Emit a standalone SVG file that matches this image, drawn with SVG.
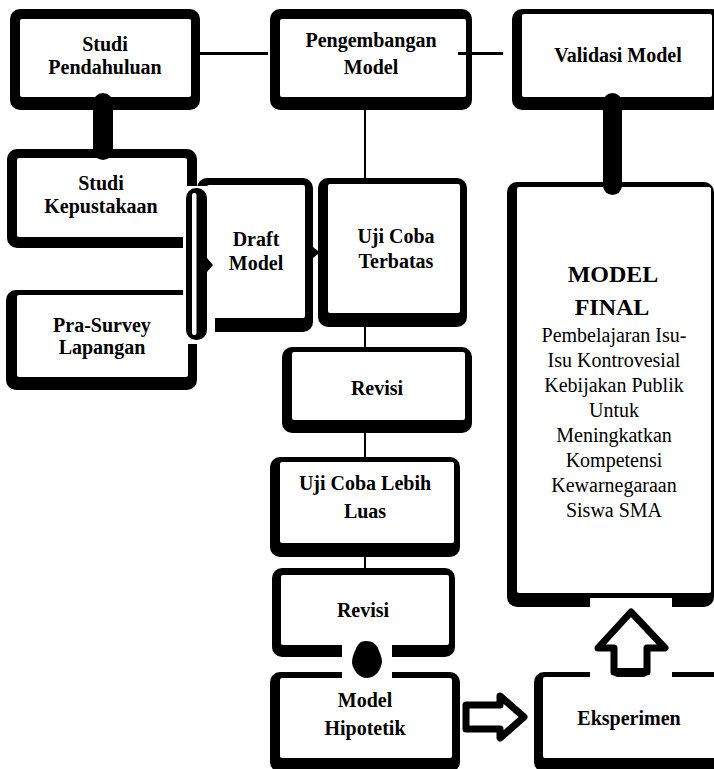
<svg xmlns="http://www.w3.org/2000/svg" width="714" height="769" viewBox="0 0 714 769">
<style>
.o{fill:#000}
.i{fill:#fff}
.t{font-family:"Liberation Serif","Times New Roman",serif;font-size:20px;font-weight:bold;text-anchor:middle;fill:#000}
.big{font-size:24px}
.reg{font-weight:normal}
.ln{stroke:#000;stroke-width:3;fill:none}
.thin{stroke:#000;stroke-width:2;fill:none}
.gap{fill:#fff}
.blk{fill:#fff;stroke:#000;stroke-width:7;stroke-linejoin:round}
</style>
<rect width="714" height="769" fill="#fff"/>
<g id="nodes">
<g id="studi-pendahuluan">
<rect class="o" x="10" y="9" width="190" height="101" rx="10"/>
<rect class="i" x="20" y="19" width="171" height="78" rx="2"/>
<text class="t" x="105" y="51">Studi</text>
<text class="t" x="105" y="74">Pendahuluan</text>
</g>
<g id="pengembangan-model">
<rect class="o" x="270" y="9" width="202" height="101" rx="10"/>
<rect class="i" x="280" y="19" width="186" height="78" rx="2"/>
<text class="t" x="371" y="47">Pengembangan</text>
<text class="t" x="371" y="74">Model</text>
</g>
<g id="validasi-model">
<rect class="o" x="512" y="9" width="210" height="101" rx="10"/>
<rect class="i" x="522" y="14" width="190" height="83" rx="2"/>
<text class="t" x="618" y="62">Validasi Model</text>
</g>
<g id="studi-kepustakaan">
<rect class="o" x="7" y="149" width="190" height="99" rx="10"/>
<rect class="i" x="17" y="158" width="170" height="79" rx="2"/>
<text class="t" x="101" y="190">Studi</text>
<text class="t" x="101" y="213">Kepustakaan</text>
</g>
<g id="pra-survey">
<rect class="o" x="6" y="290" width="191" height="100" rx="10"/>
<rect class="i" x="17" y="295" width="171" height="82" rx="2"/>
<text class="t" x="102" y="332">Pra-Survey</text>
<text class="t" x="102" y="354">Lapangan</text>
</g>
<g id="draft-model">
<rect class="o" x="197" y="178" width="116" height="154" rx="10"/>
<rect class="i" x="207" y="185" width="98" height="133" rx="2"/>
<text class="t" x="256" y="246">Draft</text>
<text class="t" x="256" y="270">Model</text>
</g>
<g id="uji-coba-terbatas">
<rect class="o" x="318" y="178" width="149" height="149" rx="10"/>
<rect class="i" x="328" y="184" width="132" height="129" rx="2"/>
<text class="t" x="396" y="243">Uji Coba</text>
<text class="t" x="396" y="268">Terbatas</text>
</g>
<g id="revisi-1">
<rect class="o" x="282" y="347" width="190" height="86" rx="10"/>
<rect class="i" x="292" y="352" width="173" height="68" rx="2"/>
<text class="t" x="377" y="395">Revisi</text>
</g>
<g id="uji-coba-lebih-luas">
<rect class="o" x="270" y="457" width="190" height="100" rx="10"/>
<rect class="i" x="280" y="462" width="174" height="81" rx="2"/>
<text class="t" x="365" y="490">Uji Coba Lebih</text>
<text class="t" x="365" y="518">Luas</text>
</g>
<g id="revisi-2">
<rect class="o" x="272" y="568" width="183" height="89" rx="10"/>
<rect class="i" x="281" y="575" width="168" height="70" rx="2"/>
<text class="t" x="363" y="617">Revisi</text>
</g>
<g id="model-hipotetik">
<rect class="o" x="270" y="672" width="190" height="100" rx="10"/>
<rect class="i" x="280" y="678" width="172" height="80" rx="2"/>
<text class="t" x="365" y="707">Model</text>
<text class="t" x="365" y="735">Hipotetik</text>
</g>
<g id="eksperimen">
<rect class="o" x="534" y="672" width="200" height="100" rx="10"/>
<rect class="i" x="543" y="677" width="190" height="81" rx="2"/>
<text class="t" x="629" y="725">Eksperimen</text>
</g>
<g id="model-final">
<rect class="o" x="507" y="182" width="207" height="425" rx="10"/>
<rect class="i" x="517" y="187" width="194" height="406" rx="2"/>
<text class="t big" x="613" y="282">MODEL</text>
<text class="t big" x="612" y="315">FINAL</text>
<text class="t reg" x="614" y="342">Pembelajaran Isu-</text>
<text class="t reg" x="614" y="367">Isu Kontrovesial</text>
<text class="t reg" x="614" y="392">Kebijakan Publik</text>
<text class="t reg" x="614" y="417">Untuk</text>
<text class="t reg" x="614" y="442">Meningkatkan</text>
<text class="t reg" x="614" y="467">Kompetensi</text>
<text class="t reg" x="614" y="492">Kewarnegaraan</text>
<text class="t reg" x="614" y="517">Siswa SMA</text>
</g>
</g>
<g id="connectors">
<line class="ln" x1="200" y1="53.5" x2="268" y2="53.5"/>
<line class="ln" x1="458" y1="53.5" x2="503" y2="53.5"/>
<line class="thin" x1="365" y1="110" x2="365" y2="178"/>
<rect class="o" x="93" y="93" width="20" height="67" rx="10"/>
<rect class="o" x="603" y="93" width="19" height="102" rx="9.5"/>
<rect class="gap" x="183" y="186" width="32" height="158"/>
<rect class="o" x="186" y="188" width="21" height="152" rx="10"/>
<rect class="i" x="192" y="193" width="4.5" height="142" rx="2"/>
<polygon class="o" points="207,258 213,265 207,272"/>
<polygon class="o" points="313,247 320,252.5 313,258"/>
<line class="thin" x1="365" y1="327" x2="365" y2="347"/>
<line class="thin" x1="365" y1="433" x2="365" y2="457"/>
<line class="thin" x1="365" y1="557" x2="365" y2="568"/>
<rect class="gap" x="342" y="645" width="50" height="33"/>
<path class="o" d="M366,641 C374,641 378,646 379,651 C381,655 382,659 382,662 C381,669 376,678 367,678 C359,678 353,670 352,663 C352,659 353,655 355,651 C357,646 359,641 366,641 Z"/>
<path class="blk" d="M466,705 L500,705 L500,696 L524,717 L500,738 L500,729 L466,729 Z"/>
<rect class="gap" x="590" y="598" width="82" height="79"/>
<path class="blk" d="M631,612 L665,648 L647,648 L647,672 L614,672 L614,648 L598,648 Z"/>
<rect class="o" x="614" y="668" width="33" height="9" rx="4"/>
</g>
</svg>
